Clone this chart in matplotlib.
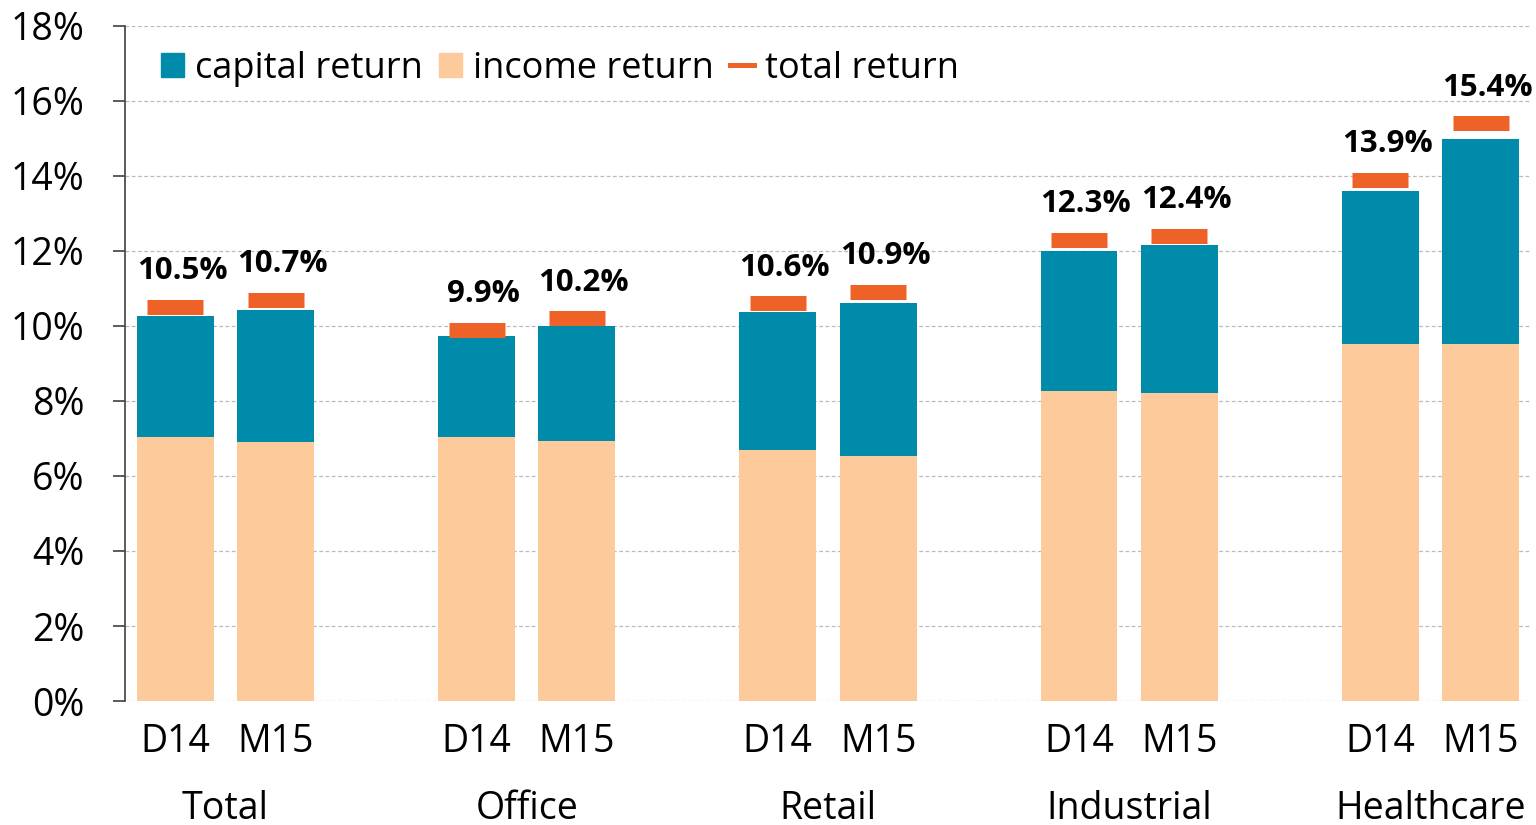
import numpy as np
import matplotlib.pyplot as plt
from matplotlib.patches import Patch
from matplotlib.lines import Line2D

plt.rcParams['font.family'] = ['Open Sans', 'DejaVu Sans']

# data (percent)
categories = ['Total', 'Office', 'Retail', 'Industrial', 'Healthcare']
periods = ['D14', 'M15']
income_return = [7.04, 6.91, 7.04, 6.93, 6.69, 6.53, 8.27, 8.21, 9.52, 9.52]
capital_return = [3.23, 3.52, 2.69, 3.07, 3.68, 4.08, 3.73, 3.95, 4.08, 5.47]
total_return = [10.5, 10.7, 9.9, 10.2, 10.6, 10.9, 12.3, 12.4, 13.9, 15.4]
yticks = np.arange(0, 19, 2)

c_cap = '#008BAA'
c_inc = '#FDCB9B'
c_tot = '#EE6228'

fig = plt.figure(figsize=(15.36, 8.25), dpi=100)
ax = fig.add_axes([0.0814, 0.1503, 0.9153, 0.8182])

# bar positions: two bars per group, a gap between groups
x = np.array([g * 3 + k for g in range(len(categories)) for k in range(len(periods))], dtype=float)
w = 0.766

ax.bar(x, income_return, width=w, color=c_inc, zorder=2)
ax.bar(x, capital_return, width=w, bottom=income_return, color=c_cap, zorder=2)
ax.plot(x, total_return, linestyle='none', marker='_', markersize=41,
        markeredgewidth=10.8, color=c_tot, zorder=3)

for xi, t in zip(x, total_return):
    ax.annotate(f'{t:.1f}%', (xi, t), xytext=(5, 15), textcoords='offset points',
                ha='center', va='bottom', fontsize=22.5, fontweight='bold')

ax.set_xlim(-0.5, 13.5)
ax.set_ylim(0, 18)
ax.set_yticks(yticks)
ax.set_yticklabels([f'{v}%' for v in yticks], fontsize=27)
ax.yaxis.grid(True, linestyle=(0, (3, 2)), color='#BBBBBB', linewidth=0.9, zorder=0)
ax.set_axisbelow(True)
ax.tick_params(axis='y', length=9, width=1.2, color='#404040', pad=20)

ax.set_xticks(x)
ax.set_xticklabels(periods * len(categories), fontsize=27)
ax.set_xticks([g * 3 + 0.5 for g in range(len(categories))], minor=True)
ax.set_xticklabels(categories, minor=True, fontsize=27)
ax.tick_params(axis='x', which='major', length=0, pad=16)
ax.tick_params(axis='x', which='minor', length=0, pad=64)

for s in ['top', 'right', 'bottom']:
    ax.spines[s].set_visible(False)
ax.spines['left'].set_color('#404040')
ax.spines['left'].set_linewidth(1.2)

handles = [Patch(color=c_cap), Patch(color=c_inc), Line2D([], [], color=c_tot, lw=3.6)]
ax.legend(handles, ['capital return', 'income return', 'total return'],
          loc='upper left', bbox_to_anchor=(0.015, 0.985), ncol=3, frameon=False,
          fontsize=26, handlelength=0.65, handleheight=0.65, handletextpad=0.3,
          columnspacing=0.45, borderaxespad=0)

fig.savefig('out.png', dpi=100)
